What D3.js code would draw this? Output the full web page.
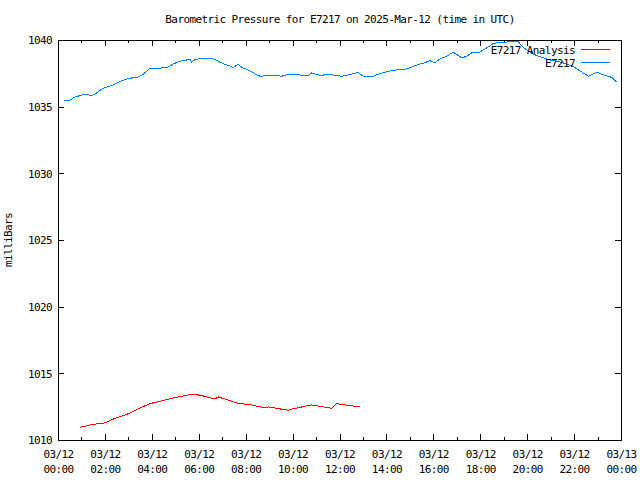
<!DOCTYPE html>
<html><head><meta charset="utf-8">
<script src="https://cdn.jsdelivr.net/npm/d3@7/dist/d3.min.js"></script>
<style>
html,body{margin:0;padding:0;background:#fff;}
text{font-family:"DejaVu Sans Mono","Liberation Mono",monospace;font-size:11px;letter-spacing:-0.6px;fill:#000;}
</style></head><body>
<svg id="c" width="640" height="480"></svg>
<script>
const title = "Barometric Pressure for E7217 on 2025-Mar-12 (time in UTC)";
const yLabel = "milliBars";
const seriesNames = ["E7217 Analysis", "E7217"];
const seriesColors = ["#ff0000", "#0080ff"];
const dateStr = "2025-03-12";
const yTicks = [1010, 1015, 1020, 1025, 1030, 1035, 1040];

const obsTimes = ["00:15","00:31","00:43","01:01","01:13","01:26","01:39","01:52","02:05","02:21","02:43","03:04","03:25","03:38","03:55","04:17","04:42","04:55","05:16","05:38","05:42","05:50","06:08","06:29","06:41","06:54","07:07","07:20","07:28","07:41","07:50","08:02","08:15","08:28","08:37","08:54","09:19","09:32","09:45","10:15","10:23","10:40","10:49","11:02","11:14","11:31","11:48","12:05","12:18","12:35","12:48","13:01","13:26","13:39","13:56","14:14","14:35","14:47","15:05","15:22","15:34","15:51","16:04","16:17","16:34","16:51","17:13","17:25","17:38","17:59","18:12","18:25","18:33","18:51","19:37","19:50","20:16","20:58","21:28","21:58","22:15","22:37","22:58","23:15","23:36","23:50"];
const obsValues = [1035.48,1035.5,1035.72,1035.87,1035.93,1035.83,1036.03,1036.33,1036.48,1036.63,1036.95,1037.13,1037.23,1037.43,1037.87,1037.87,1037.97,1038.22,1038.43,1038.55,1038.33,1038.53,1038.63,1038.63,1038.55,1038.33,1038.17,1038.05,1037.95,1038.17,1037.95,1037.8,1037.63,1037.38,1037.28,1037.33,1037.33,1037.28,1037.4,1037.4,1037.35,1037.35,1037.53,1037.4,1037.35,1037.43,1037.35,1037.28,1037.35,1037.48,1037.55,1037.28,1037.28,1037.43,1037.58,1037.7,1037.8,1037.78,1037.98,1038.18,1038.25,1038.45,1038.28,1038.58,1038.78,1039.08,1038.65,1038.78,1039.03,1039.1,1039.33,1039.55,1039.73,1039.83,1039.88,1039.43,1038.93,1038.5,1038.33,1038.0,1037.68,1037.28,1037.58,1037.38,1037.2,1036.83];

const anaTimes = ["00:56","01:30","02:00","02:26","03:00","03:30","03:55","04:21","04:55","05:25","05:42","05:50","06:12","06:41","06:50","07:16","07:41","08:15","08:45","08:58","09:28","09:49","10:02","10:32","10:49","11:10","11:40","11:53","12:10","12:35","12:52"];
const anaValues = [1010.95,1011.17,1011.28,1011.63,1011.97,1012.4,1012.73,1012.9,1013.15,1013.33,1013.43,1013.43,1013.3,1013.08,1013.23,1012.98,1012.75,1012.63,1012.43,1012.48,1012.33,1012.23,1012.35,1012.53,1012.63,1012.53,1012.38,1012.73,1012.65,1012.55,1012.53];

const svg = d3.select("#c");
const L = 58, R = 621, T = 40, B = 440;
const t0 = new Date(dateStr + "T00:00:00Z");
const t1 = d3.utcDay.offset(t0, 1);
const parse = s => new Date(dateStr + "T" + s + ":00Z");

const x = d3.scaleUtc().domain([t0, t1]).range([L, R]);
const y = d3.scaleLinear().domain([1010, 1040]).range([B, T]);

const majorT = d3.utcHour.every(2).range(t0, d3.utcHour.offset(t1, 1));
const minorT = d3.utcHour.every(1).range(t0, d3.utcHour.offset(t1, 1)).filter(d => d.getUTCHours() % 2 === 1);

const g = svg.append("g").attr("shape-rendering", "crispEdges");
const px = v => Math.round(v) + 0.5;

function tickLines(sel, list, len) {
  list.forEach(d => {
    const xx = px(x(d));
    sel.append("line").attr("x1", xx).attr("x2", xx).attr("y1", B).attr("y2", B - len).attr("stroke", "#000");
    sel.append("line").attr("x1", xx).attr("x2", xx).attr("y1", T).attr("y2", T + len).attr("stroke", "#000");
  });
}
tickLines(g, majorT.filter(d => d > t0 && d < t1), 6);
tickLines(g, minorT, 3);
yTicks.forEach(v => {
  const yy = px(y(v));
  g.append("line").attr("x1", L).attr("x2", L + 6).attr("y1", yy).attr("y2", yy).attr("stroke", "#000");
  g.append("line").attr("x1", R).attr("x2", R - 6).attr("y1", yy).attr("y2", yy).attr("stroke", "#000");
});

const fmtD = d3.utcFormat("%m/%d"), fmtH = d3.utcFormat("%H:%M");
const xAxis = d3.axisBottom(x).tickValues(majorT).tickSize(0).tickPadding(0).tickFormat("");
const xg = svg.append("g").attr("transform", `translate(0,${B})`).call(xAxis);
xg.select(".domain").remove();
xg.selectAll(".tick text").remove();
xg.selectAll(".tick").each(function(d) {
  const t = d3.select(this).append("text").attr("text-anchor", "middle").attr("fill", "#000");
  t.append("tspan").attr("x", 0).attr("y", 18).text(fmtD(d));
  t.append("tspan").attr("x", 0).attr("y", 33).text(fmtH(d));
});

const yAxis = d3.axisLeft(y).tickValues(yTicks).tickSize(0).tickPadding(0).tickFormat(d3.format("d"));
const yg = svg.append("g").attr("transform", `translate(${L - 6},0)`).call(yAxis);
yg.select(".domain").remove();
yg.selectAll(".tick text").attr("fill", "#000").attr("dy", "0.35em");

g.append("rect").attr("x", L + 0.5).attr("y", T + 0.5).attr("width", R - L).attr("height", B - T).attr("fill", "none").attr("stroke", "#000");

const line = d3.line().x(d => x(d[0])).y(d => y(d[1]));
const anaData = anaTimes.map((t, i) => [parse(t), anaValues[i]]);
const obsData = obsTimes.map((t, i) => [parse(t), obsValues[i]]);
svg.append("path").datum(anaData).attr("d", line).attr("fill", "none").attr("stroke", seriesColors[0]).attr("stroke-width", 1).attr("shape-rendering", "crispEdges");
svg.append("path").datum(obsData).attr("d", line).attr("fill", "none").attr("stroke", seriesColors[1]).attr("stroke-width", 1).attr("shape-rendering", "crispEdges");

seriesNames.forEach((n, i) => {
  const yy = 50 + i * 13;
  svg.append("text").attr("x", 575).attr("y", yy).attr("dy", "0.35em").attr("text-anchor", "end").text(n);
  svg.append("line").attr("x1", 581).attr("x2", 610).attr("y1", yy - 0.5).attr("y2", yy - 0.5).attr("stroke", seriesColors[i]).attr("shape-rendering", "crispEdges");
});

svg.append("text").attr("x", 340).attr("y", 23).attr("text-anchor", "middle").text(title);
svg.append("text").attr("transform", "translate(12,240) rotate(-90)").attr("text-anchor", "middle").text(yLabel);
svg.selectAll("g[font-family]").attr("font-family", null).attr("font-size", null);
</script>
</body></html>
